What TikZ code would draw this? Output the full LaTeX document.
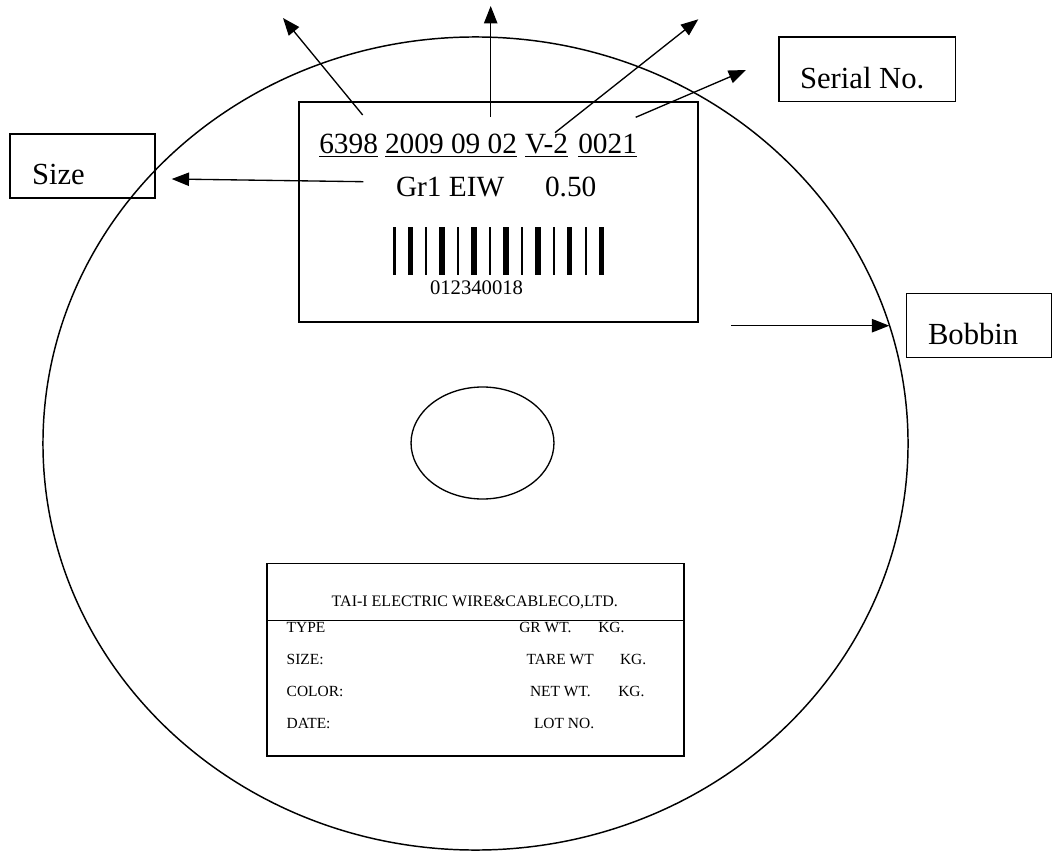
\documentclass[tikz,border=0pt]{standalone}
\usepackage{fontspec}
\setmainfont{Liberation Serif}
\usetikzlibrary{arrows.meta}
\begin{document}
\begin{tikzpicture}[x=0.75pt,y=-0.75pt, line width=1pt,
  arr/.style={-{Triangle[length=13pt,width=10pt]}},
  txt/.style={inner sep=0pt, outer sep=0pt, anchor=base west},
  lbl/.style={txt, font=\fontsize{23}{27}\selectfont},
  code/.style={txt, font=\fontsize{22}{26}\selectfont},
  bar/.style={txt, font=\fontsize{15.5}{18}\selectfont},
  row/.style={txt, font=\fontsize{11.6}{14}\selectfont},
  ttl/.style={txt, font=\fontsize{12}{14}\selectfont},
  frame/.style={draw, line width=0.8pt, inner sep=0pt, outer sep=0pt, anchor=north west}]
\useasboundingbox (0,0) rectangle (1056,852);
% bobbin disc and hub
\draw[line width=1.1pt] (475.5,443.5) ellipse [x radius=324.4pt, y radius=304.9pt];
\draw (482.5,443) ellipse [x radius=53.6pt, y radius=42pt];
% label on the bobbin
\node[frame, minimum width=299.25pt, minimum height=165pt] (labelbox) at (299,102) {};
\node[code] (g1) at (319.3,154) {\underline{6398}};
\node[code] (g2) at (385,154) {\underline{2009 09 02}};
\node[code] (g3) at (525,154) {\underline{V-2}};
\node[code] (g4) at (578.3,154) {\underline{0021}};
\node[code] (grade) at (396,197) {Gr1 EIW};
\node[code] (dia) at (545,197) {0.50};
\foreach \i in {0,...,13}{
  \pgfmathsetmacro{\bx}{394.3+15.95*\i}
  \pgfmathsetmacro{\bw}{mod(\i,2)==0 ? 1.2 : 2.7}
  \fill (\bx-\bw,227) rectangle (\bx+\bw,275);
}
\node[bar] (code) at (430,295) {012340018};
% callout boxes
\node[frame, minimum width=108.75pt, minimum height=48pt] (sizebox) at (10,134) {};
\node[lbl] (sizetxt) at (32,184.3) {Size};
\node[frame, minimum width=132.5pt, minimum height=48.5pt] (serialbox) at (779,37) {};
\node[lbl] (serialtxt) at (800,89) {Serial No.};
\node[frame, minimum width=108.75pt, minimum height=48.3pt] (bobbinbox) at (906.7,293.3) {};
\node[lbl] (bobbintxt) at (928,344) {Bobbin};
% arrows
\coordinate (a1s) at (362.7,115);  \coordinate (a1e) at (283,18);
\coordinate (a2s) at (490.7,116.7); \coordinate (a2e) at (490.7,6);
\coordinate (a3s) at (555,132.7);  \coordinate (a3e) at (698.3,19.3);
\coordinate (a4s) at (635.7,117.3); \coordinate (a4e) at (746,70);
\coordinate (a5s) at (363.3,181.7); \coordinate (a5e) at (171.7,179);
\coordinate (a6s) at (731,325.7);  \coordinate (a6e) at (889.3,325.7);
\draw[arr] (a1s) -- (a1e);
\draw[arr] (a2s) -- (a2e);
\draw[arr] (a3s) -- (a3e);
\draw[arr] (a4s) -- (a4e);
\draw[arr] (a5s) -- (a5e);
\draw[arr] (a6s) -- (a6e);
% table label
\node[frame, line width=1.2pt, minimum width=313pt, minimum height=144.3pt] (table) at (266.7,563.3) {};
\coordinate (dl) at (266.7,620.7); \coordinate (dr) at (684,620.7);
\draw (dl) -- (dr);
\node[ttl] (title) at (331.7,606) {TAI-I ELECTRIC WIRE\&CABLECO,LTD.};
\node[row] (r1) at (286.7,632.3) {TYPE};
\node[row] (r2) at (286.7,664.3) {SIZE:};
\node[row] (r3) at (286.7,696.7) {COLOR:};
\node[row] (r4) at (286.7,728.3) {DATE:};
\node[row] (s1) at (519.3,632.3) {GR WT.};
\node[row] (k1) at (598.3,632.3) {KG.};
\node[row] (s2) at (526.7,664.3) {TARE WT};
\node[row] (k2) at (620,664.3) {KG.};
\node[row] (s3) at (530,696.7) {NET WT.};
\node[row] (k3) at (618.3,696.7) {KG.};
\node[row] (s4) at (534,728.3) {LOT NO.};
\end{tikzpicture}
\end{document}
